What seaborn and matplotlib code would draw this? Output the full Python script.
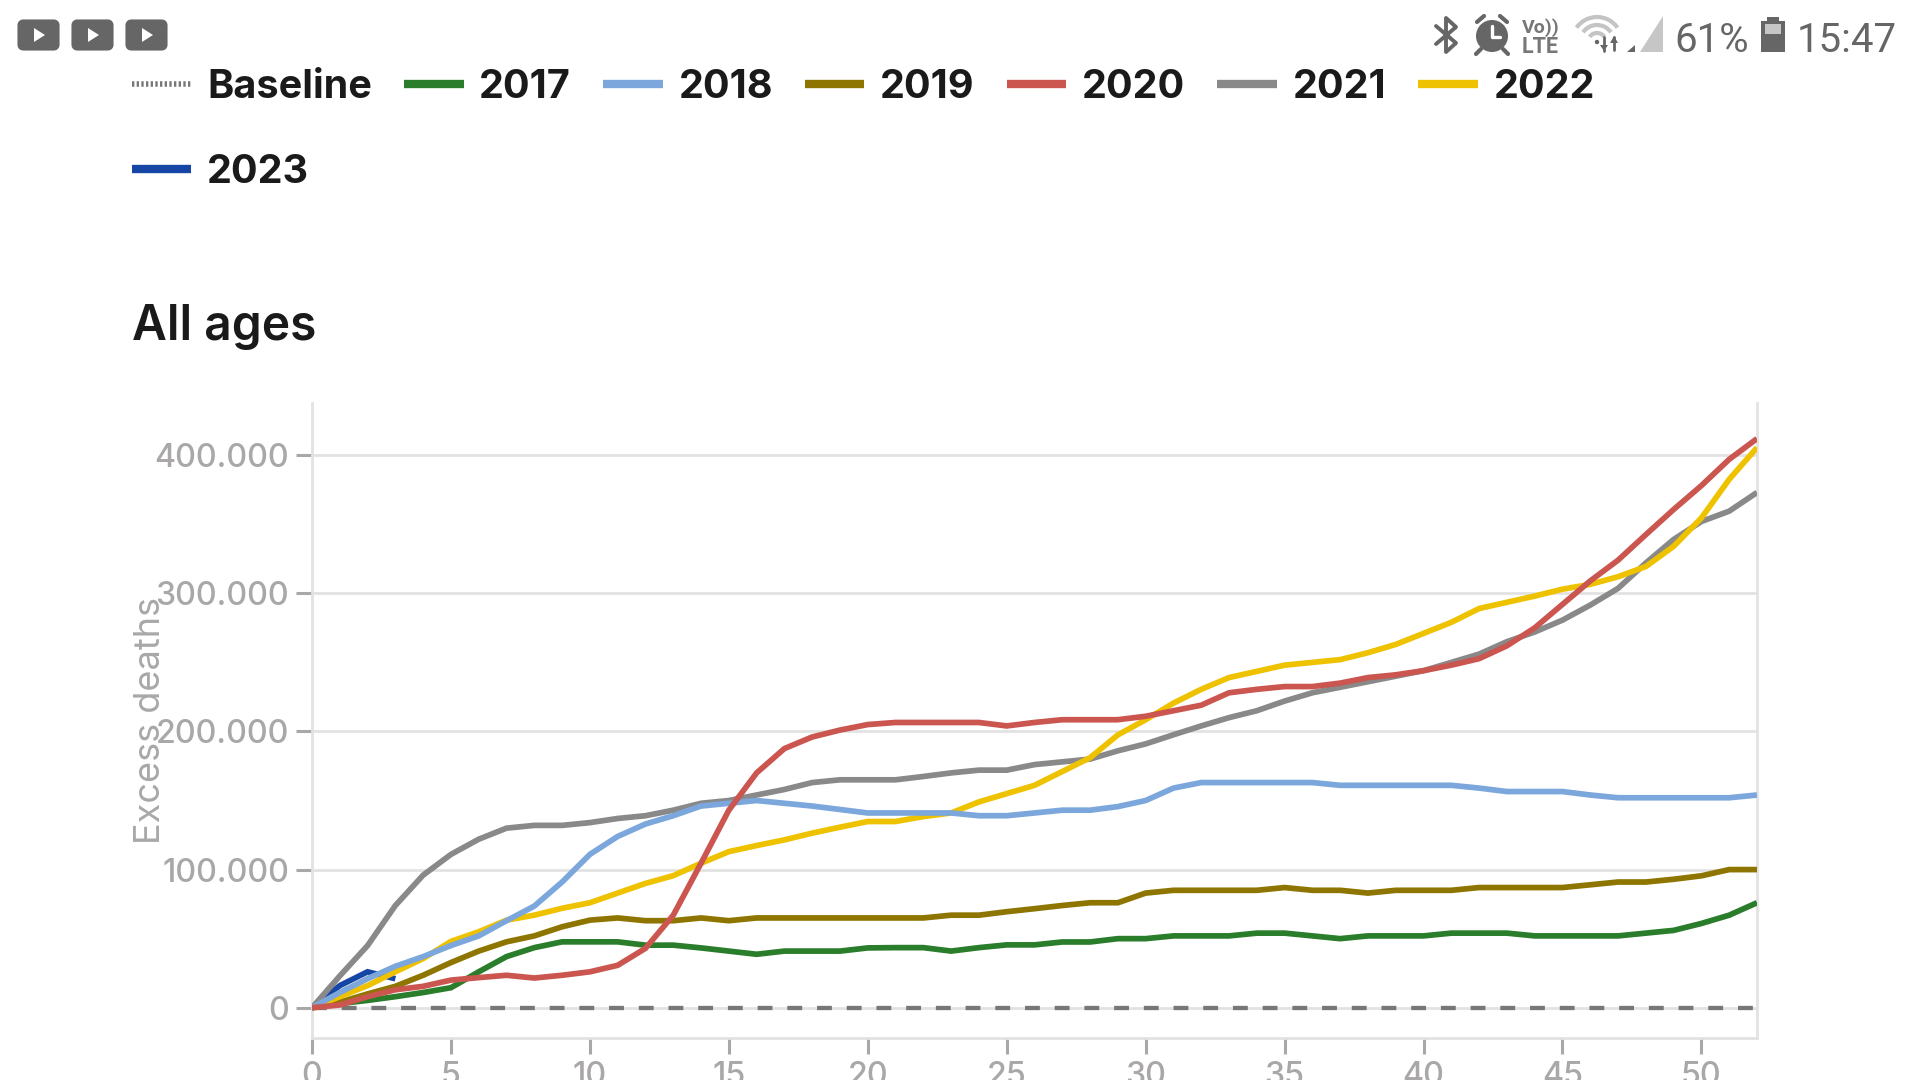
import numpy as np
import pandas as pd
import seaborn as sns
import matplotlib.pyplot as plt
from matplotlib.patches import FancyBboxPatch, Polygon, Circle, Arc, Rectangle
from matplotlib.ticker import FuncFormatter

# excess deaths per week (thousands)
weeks = list(range(53))
y2017 = [0, 3, 5.3, 8, 11, 14.5, 26, 37, 43.5, 47.7, 47.7, 47.7, 45.3, 45.3, 43.3, 41, 38.7, 41, 41, 41, 43.3,
         43.5, 43.5, 41, 43.5, 45.5, 45.5, 47.6, 47.6, 50, 50, 52, 52, 52, 54, 54, 52, 50, 52, 52, 52, 54, 54, 54,
         52, 52, 52, 52, 54, 56, 61, 67, 76]
y2018 = [0, 11, 21, 30, 37, 45, 52, 63, 73.6, 91, 111, 124, 133, 139, 146, 148, 150, 148, 146, 143.5, 141,
         141, 141, 141, 139, 139, 141, 143, 143, 145.6, 150, 159, 163, 163, 163, 163, 163, 161, 161, 161, 161, 161,
         159, 156.5, 156.5, 156.5, 154, 152, 152, 152, 152, 152, 154]
y2019 = [0, 4, 10, 15.5, 23.5, 32.7, 41, 47.7, 52, 58.6, 63.4, 65, 63, 63, 65, 63, 65, 65, 65, 65, 65,
         65, 65, 67, 67, 69.5, 71.7, 74, 76, 76, 83, 85, 85, 85, 85, 87, 85, 85, 83, 85, 85, 85, 87, 87, 87, 87,
         89, 91, 91, 93, 95.5, 100, 100]
y2020 = [0, 2, 8, 13, 15.5, 20, 21.8, 23.5, 21.5, 23.5, 26, 30.7, 43, 67, 104.6, 143, 170, 187.6, 196, 201, 205,
         206.5, 206.5, 206.5, 206.5, 204, 206.5, 208.5, 208.5, 208.5, 211, 215, 219, 228, 230.5, 232.5, 232.5, 235,
         239, 241, 244, 248, 252.7, 262, 275, 292, 309, 324, 342.5, 360.7, 378, 397, 412]
y2021 = [0, 23, 45, 74, 96, 111, 122, 130, 132, 132, 134, 137, 139, 143, 148, 150, 154, 158, 163, 165, 165,
         165, 167.4, 170, 172, 172, 176, 178, 180, 186, 191, 197.6, 204, 210, 215, 222, 228, 232, 236, 240, 244,
         250, 256, 265, 272, 280.6, 291.5, 303.6, 322, 339, 352, 359.5, 373]
y2022 = [0, 8, 16, 26, 35.6, 48, 55, 63.4, 67, 72, 76, 83, 90, 95.6, 104.6, 113, 117.4, 121.5, 126.4, 130.7, 134.8,
         134.8, 138.4, 141, 149, 155, 161, 171, 181, 197.5, 208.5, 220.5, 230.5, 239, 243.5, 248, 250, 252, 257, 263,
         271, 279, 289, 293.5, 298, 303, 306.5, 312, 319.4, 334, 354.6, 382.5, 405.5]
y2023 = [0, 16, 26, 21]
baseline = [0] * 53

yticks = [0, 100000, 200000, 300000, 400000]
xticks = [0, 5, 10, 15, 20, 25, 30, 35, 40, 45, 50]
# legend fills column by column, so 2023 comes second to land under Baseline
legend_order = ['Baseline', '2023', '2017', '2018', '2019', '2020', '2021', '2022']

colors = {'2017': '#2a7d2a', '2018': '#7ba7dc', '2019': '#8e7500', '2020': '#cb5650',
          '2021': '#898989', '2022': '#efc200', '2023': '#1646a5'}
series = {'2023': y2023, '2017': y2017, '2019': y2019, '2021': y2021,
          '2022': y2022, '2018': y2018, '2020': y2020}

sns.set_theme(style='white')
plt.rcParams['font.family'] = ['Inter', 'DejaVu Sans']

W, H = 1920, 1080
fig = plt.figure(figsize=(W / 100, H / 100), dpi=100, facecolor='white')
ax = fig.add_axes([312 / W, 1 - 1037.7 / H, (1757 - 312) / W, (1037 - 402) / H])

GRAY_TXT = '#a9a7a7'
GRID = '#e2e2e2'

ax.yaxis.grid(True, color=GRID, lw=2, zorder=0)
ax.set_axisbelow(True)

sns.lineplot(x=weeks, y=baseline, ax=ax, color='#777777', lw=3.1, label='Baseline',
             linestyle=(0, (3.45, 3.45)), zorder=2)
for year, vals in series.items():
    df = pd.DataFrame({'week': weeks[:len(vals)], 'deaths': np.array(vals) * 1000})
    sns.lineplot(data=df, x='week', y='deaths', ax=ax, color=colors[year], lw=4.1, label=year,
                 solid_joinstyle='miter', solid_capstyle='butt', zorder=3)

ax.set_xlim(0, 52)
ax.set_ylim(-21700, 438000)
ax.set_xticks(xticks)
ax.set_yticks(yticks)
ax.yaxis.set_major_formatter(FuncFormatter(lambda v, p: f'{int(v):,}'.replace(',', '.')))
ax.tick_params(axis='both', colors=GRAY_TXT, labelsize=23.2, length=11.5, width=2.2, pad=5, left=True, bottom=True)
for lab in ax.get_xticklabels() + ax.get_yticklabels():
    lab.set_fontweight('medium')
ax.set_xlabel('')
ax.set_ylabel('')
for side in ['left', 'right', 'bottom']:
    ax.spines[side].set_color(GRID)
    ax.spines[side].set_linewidth(2)
ax.spines['top'].set_visible(False)

handles, labels = ax.get_legend_handles_labels()
ax.get_legend().remove()
lookup = dict(zip(labels, handles))
ordered = [lookup[k] for k in legend_order]
leg = fig.legend(ordered, legend_order, ncol=7, loc='upper left', bbox_to_anchor=(132 / W, 1 - 69 / H),
                 bbox_transform=fig.transFigure, frameon=False, borderaxespad=0, borderpad=0,
                 handlelength=1.5, handletextpad=0.4, columnspacing=0.81, labelspacing=1.22,
                 prop={'size': 28.5, 'weight': 'bold'})
for h, t in zip(leg.legend_handles, leg.get_texts()):
    t.set_color('#1a1a1a')
    h.set_linewidth(6)
    h.set_solid_capstyle('butt')
leg.legend_handles[0].set_linewidth(4)
leg.legend_handles[0].set_linestyle((0, (0.42, 0.42)))

# overlay in pixel coordinates for texts outside the axes and the phone status bar
ov = fig.add_axes([0, 0, 1, 1], facecolor='none')
ov.set_xlim(0, W)
ov.set_ylim(H, 0)
ov.axis('off')

ov.text(132, 340, 'All ages', fontsize=34.5, fontweight='semibold', color='#1a1a1a', ha='left', va='baseline')
ov.text(150, 720, 'Excess deaths', fontsize=26, color=GRAY_TXT, rotation=90, ha='center', va='center')

ICON = '#666666'
for x0 in [18, 72, 126]:
    ov.add_patch(FancyBboxPatch((x0 + 5, 25), 31, 20, boxstyle='round,pad=0,rounding_size=0', lw=8, ec=ICON, fc=ICON,
                                joinstyle='round'))
    ov.add_patch(Polygon([(x0 + 16, 28), (x0 + 16, 42), (x0 + 27, 35)], fc='white', ec='none'))

# bluetooth
ov.plot([1436, 1456, 1446, 1446, 1456, 1436], [26, 43, 52, 18, 27, 44], color=ICON, lw=2.8, solid_joinstyle='round')
# alarm clock
ov.add_patch(Circle((1492, 36), 16, fc=ICON, ec='none'))
ov.plot([1492, 1492, 1500], [26, 37, 37], color='white', lw=2.4)
ov.plot([1477, 1484], [22, 16], color=ICON, lw=3)
ov.plot([1500, 1507], [16, 22], color=ICON, lw=3)
ov.plot([1481, 1476], [49, 54], color=ICON, lw=3)
ov.plot([1503, 1508], [49, 54], color=ICON, lw=3)
ov.text(1522, 33, 'Vo))', fontsize=14, fontweight='bold', family='Roboto', color='#777777', ha='left', va='baseline')
ov.text(1522, 53, 'LTE', fontsize=15.5, fontweight='bold', family='Roboto', color='#777777', ha='left', va='baseline')
# wifi and signal
for d in [50, 34, 18]:
    ov.add_patch(Arc((1597, 42), d, d, theta1=215, theta2=325, color='#c4c4c4', lw=3))
ov.add_patch(Circle((1597, 42), 2.2, fc=ICON, ec='none'))
ov.plot([1604, 1604], [37, 51], color=ICON, lw=2)
ov.plot([1614, 1614], [37, 50], color=ICON, lw=2)
ov.add_patch(Polygon([(1600, 45), (1608, 45), (1604, 51)], fc=ICON, ec='none'))
ov.add_patch(Polygon([(1610, 43), (1618, 43), (1614, 36)], fc=ICON, ec='none'))
ov.add_patch(Polygon([(1627, 52), (1635, 52), (1635, 45)], fc=ICON, ec='none'))
ov.add_patch(Polygon([(1640, 52), (1663, 52), (1663, 16)], fc='#c6c6c6', ec='none'))
ov.text(1749, 52, '61%', fontsize=29, family='Roboto', color=ICON, ha='right', va='baseline')
# battery
ov.add_patch(Rectangle((1761, 21), 24, 31, fc=ICON, ec='none'))
ov.add_patch(Rectangle((1767, 17), 12, 4, fc=ICON, ec='none'))
ov.add_patch(Rectangle((1765, 24), 16, 10, fc='#c6c6c6', ec='none'))
ov.text(1897, 52, '15:47', fontsize=29, family='Roboto', color=ICON, ha='right', va='baseline')

fig.savefig('out.png', dpi=100)
